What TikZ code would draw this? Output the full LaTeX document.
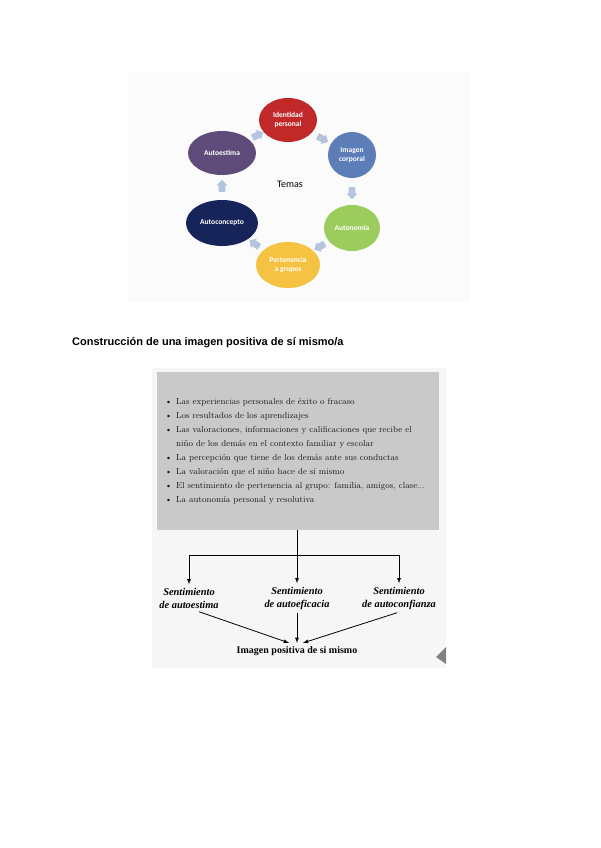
\documentclass[tikz,border=0pt]{standalone}
\usepackage{fontspec}
\usepackage{xcolor}
\usepackage{tikz}
\usetikzlibrary{shapes.geometric,shapes.arrows}
\newfontfamily\carlito{Carlito}
\newfontfamily\arial{Liberation Sans}
\newfontfamily\libserif{Liberation Serif}
\definecolor{rojoid}{RGB}{192,40,42}
\definecolor{azulimg}{RGB}{92,125,184}
\definecolor{verdeaut}{RGB}{156,204,92}
\definecolor{amarper}{RGB}{245,194,66}
\definecolor{marinoac}{RGB}{22,36,90}
\definecolor{moradoae}{RGB}{94,75,122}
\definecolor{flechacol}{RGB}{180,196,221}
\definecolor{cajagris}{RGB}{201,201,201}
\definecolor{fondoscan}{RGB}{246,246,246}

\begin{document}
\begin{tikzpicture}[x=1pt,y=-1pt,>=latex,
  tema/.style={ellipse,inner sep=0pt,text=white,align=center,
    font=\carlito\bfseries\fontsize{7.5}{9}\selectfont},
  flecha/.style={single arrow,fill=flechacol,minimum height=12pt,minimum width=11pt,
    single arrow head extend=2pt,inner sep=3pt,midway,sloped,allow upside down},
  sent/.style={align=center,font=\libserif\bfseries\itshape\fontsize{10.4}{13}\selectfont}]
  \useasboundingbox[fill=white] (0,0) rectangle (600,848);
  % Temas diagram background
  \fill[black!1.5] (128,72) rectangle (470,302);
  % Ellipses
  \node[tema,fill=rojoid,minimum width=58,minimum height=44] (iden) at (288,120) {Identidad\\personal};
  \node[tema,fill=azulimg,minimum width=48,minimum height=46] (imag) at (352,155) {Imagen\\corporal};
  \node[tema,fill=verdeaut,minimum width=56,minimum height=46] (auto) at (352,228) {Autonomía};
  \node[tema,fill=amarper,minimum width=64,minimum height=46] (pert) at (288,265) {Pertenencia\\a grupos};
  \node[tema,fill=marinoac,minimum width=72,minimum height=46] (acon) at (222,223) {Autoconcepto};
  \node[tema,fill=moradoae,minimum width=68,minimum height=44] (aest) at (222,153) {Autoestima};
  \node[font=\carlito\fontsize{10}{12}\selectfont] (temas) at (290,184) {Temas};
  % Block arrows around the cycle
  \path (iden) -- node[flecha] {} (imag);
  \path (imag) -- node[flecha] {} (auto);
  \path (auto) -- node[flecha] {} (pert);
  \path (pert) -- node[flecha] {} (acon);
  \path (acon) -- node[flecha] {} (aest);
  \path (aest) -- node[flecha] {} (iden);

  % Title
  \node[anchor=west,inner sep=0pt,font=\arial\bfseries\fontsize{11}{13}\selectfont] (titulo) at (72,343)
    {Construcción de una imagen positiva de sí mismo/a};

  % Scanned page
  \fill[fondoscan] (152,368) rectangle (446,668);
  \node[fill=cajagris,minimum width=282,minimum height=158,inner sep=0pt] (caja) at (298,451) {};
  \node[anchor=base west,inner sep=0pt,text=black!90,font=\fontsize{8.7}{14.1}\selectfont] (lista) at (165,404)
    {\begin{tabular}[t]{@{}l@{\hspace{4pt}}l@{}}
      \textbullet & Las experiencias personales de éxito o fracaso\\
      \textbullet & Los resultados de los aprendizajes\\
      \textbullet & Las valoraciones, informaciones y calificaciones que recibe el\\
                  & niño de los demás en el contexto familiar y escolar\\
      \textbullet & La percepción que tiene de los demás ante sus conductas\\
      \textbullet & La valoración que el niño hace de sí mismo\\
      \textbullet & El sentimiento de pertenencia al grupo: familia, amigos, clase...\\
      \textbullet & La autonomía personal y resolutiva
    \end{tabular}};
  % Sentimientos
  \node[sent] (sae) at (189,598) {Sentimiento\\de autoestima};
  \node[sent] (sef) at (297,598) {Sentimiento\\de autoeficacia};
  \node[sent] (sco) at (399,598) {Sentimiento\\de autoconfianza};
  \node[font=\libserif\bfseries\fontsize{10}{12}\selectfont] (imgpos) at (297,651) {Imagen positiva de si mismo};
  % Branching arrows
  \coordinate (rama) at (297,555);
  \draw[line width=0.8pt] (caja.south -| rama) -- (rama);
  \draw[->,line width=0.8pt] (rama) -| (sae);
  \draw[->,line width=0.8pt] (rama) -- (sef);
  \draw[->,line width=0.8pt] (rama) -| (sco);
  % Converging arrows
  \draw[->,line width=0.8pt] ([xshift=10pt]sae.south) -- ([xshift=-8pt]imgpos.north);
  \draw[->,line width=0.8pt] (sef.south) -- (imgpos.north);
  \draw[->,line width=0.8pt] ([xshift=-2pt]sco.south) -- ([xshift=6pt]imgpos.north);
  % Corner mark of the scan
  \fill[gray] (446,647) -- (436,657) -- (446,664) -- cycle;
\end{tikzpicture}
\end{document}
